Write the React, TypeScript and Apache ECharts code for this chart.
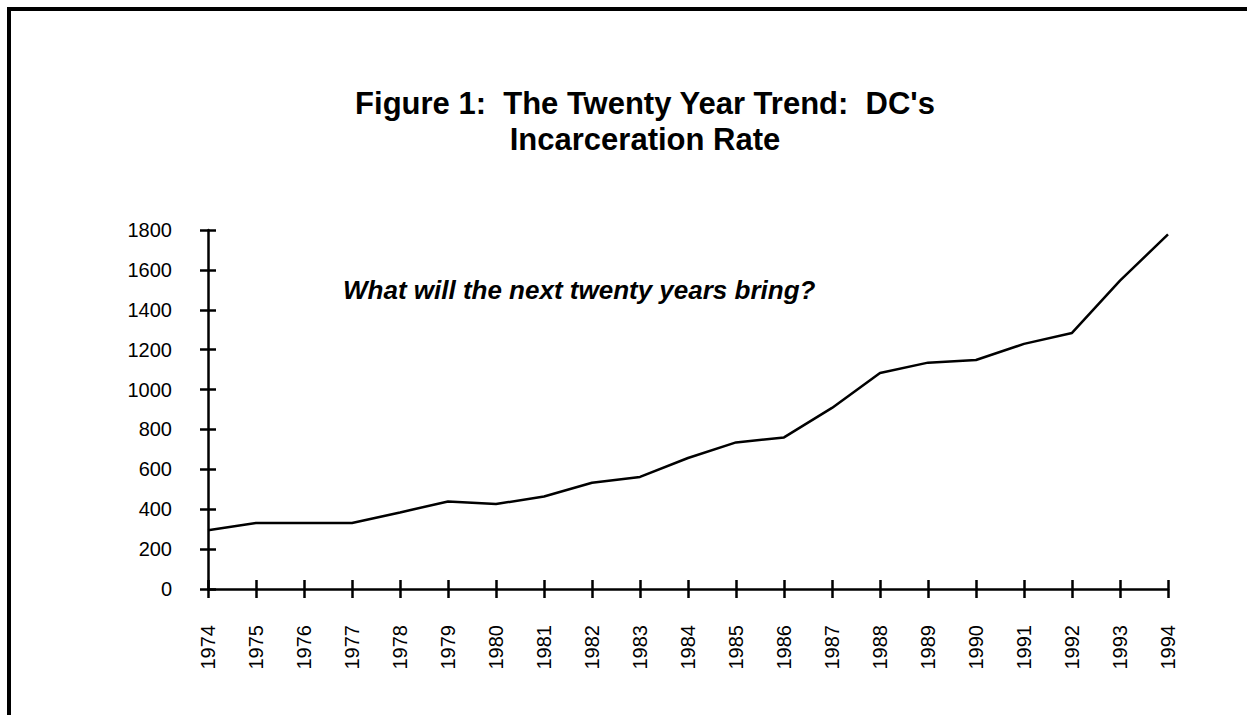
import React, { useEffect, useRef } from "react";
import * as echarts from "echarts";

const years = ["1974","1975","1976","1977","1978","1979","1980","1981","1982","1983","1984","1985","1986","1987","1988","1989","1990","1991","1992","1993","1994"];
const rates = [295, 331, 331, 331, 384, 439, 426, 464, 533, 562, 657, 735, 760, 908, 1083, 1135, 1148, 1229, 1284, 1546, 1778];
const titleLines = ["Figure 1:  The Twenty Year Trend:  DC's", "Incarceration Rate"];
const annotation = "What will the next twenty years bring?";

const FONT = "'Liberation Sans', Arial, Helvetica, sans-serif";

export default function App() {
  const ref = useRef<HTMLDivElement>(null);
  useEffect(() => {
    if (!ref.current) return;
    const chart = echarts.init(ref.current, null, { renderer: "svg" });
    const axisLine = { show: true, lineStyle: { color: "#000", width: 2.5 } };
    const tickStyle = { color: "#000", width: 2.5 };
    chart.setOption({
      animation: false,
      backgroundColor: "#fff",
      title: {
        text: titleLines.join("\n"),
        left: 640,
        top: 80,
        textAlign: "center",
        textStyle: { fontFamily: FONT, fontWeight: "bold", fontSize: 31, color: "#000", lineHeight: 36 },
      },
      graphic: [
        { type: "line", shape: { x1: 7, y1: 9, x2: 1247, y2: 9 }, style: { stroke: "#000", lineWidth: 4 } },
        { type: "line", shape: { x1: 9, y1: 7, x2: 9, y2: 715 }, style: { stroke: "#000", lineWidth: 4 } },
        {
          type: "text",
          x: 343,
          y: 290,
          style: {
            text: annotation,
            fontFamily: FONT,
            fontWeight: "bold",
            fontStyle: "italic",
            fontSize: 26,
            fill: "#000",
            align: "left",
            verticalAlign: "middle",
          },
        },
      ],
      grid: { left: 208, right: 79, top: 230, bottom: 126, containLabel: false },
      xAxis: [
        {
          type: "category",
          data: years,
          boundaryGap: false,
          axisLine,
          axisTick: { show: true, length: 9, inside: false, lineStyle: tickStyle },
          axisLabel: { rotate: 90, fontFamily: FONT, fontSize: 20, color: "#000", margin: 36 },
          splitLine: { show: false },
        },
        {
          type: "category",
          data: years,
          boundaryGap: false,
          position: "bottom",
          axisLine: { show: false },
          axisTick: { show: true, length: 9, inside: true, lineStyle: tickStyle },
          axisLabel: { show: false },
          splitLine: { show: false },
        },
      ],
      yAxis: [
        {
          type: "value",
          min: 0,
          max: 1800,
          interval: 200,
          axisLine,
          axisTick: { show: true, length: 8, inside: false, lineStyle: tickStyle },
          axisLabel: {
            fontFamily: FONT,
            fontSize: 20,
            color: "#000",
            margin: 36,
            formatter: (v: number) => String(v),
          },
          splitLine: { show: false },
        },
        {
          type: "value",
          min: 0,
          max: 1800,
          interval: 200,
          position: "left",
          axisLine: { show: false },
          axisTick: { show: true, length: 8, inside: true, lineStyle: tickStyle },
          axisLabel: { show: false },
          splitLine: { show: false },
        },
      ],
      series: [
        {
          type: "line",
          data: rates,
          xAxisIndex: 0,
          yAxisIndex: 0,
          symbol: "none",
          lineStyle: { color: "#000", width: 2.5 },
        },
      ],
    });
    return () => chart.dispose();
  }, []);
  return <div ref={ref} style={{ position: "fixed", left: 0, top: 0, width: 1247, height: 715 }} />;
}
